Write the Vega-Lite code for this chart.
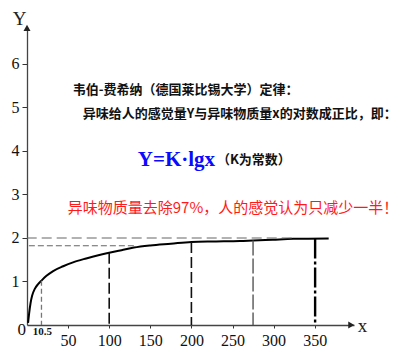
{
  "$schema": "https://vega.github.io/schema/vega-lite/v6.json",
  "width": 327,
  "height": 298,
  "autosize": {"type": "none"},
  "padding": {"left": 27, "top": 27, "right": 46, "bottom": 31},
  "background": "white",
  "config": {
    "font": "Liberation Serif",
    "view": {"stroke": null},
    "style": {"guide-label": {"font": "Liberation Serif"}, "guide-title": {"font": "Liberation Serif"}},
    "axis": {
      "labelFont": "Liberation Serif", "labelFontSize": 16, "labelColor": "#111",
      "titleFont": "Liberation Serif", "titleFontSize": 19, "titleFontWeight": "normal", "titleColor": "#222",
      "tickColor": "#333", "domainColor": "#444", "domainWidth": 1.3, "grid": false,
      "labelFlush": false, "labelOverlap": false
    }
  },
  "layer": [
    {
      "data": {"values": [
        {"x": 1.3, "y": 0.05}, {"x": 2.6, "y": 0.27}, {"x": 4.3, "y": 0.5}, {"x": 6.2, "y": 0.67},
        {"x": 9.5, "y": 0.83}, {"x": 13.5, "y": 0.94}, {"x": 17.6, "y": 1.02}, {"x": 23.7, "y": 1.13},
        {"x": 31.8, "y": 1.24}, {"x": 44, "y": 1.35}, {"x": 56, "y": 1.44}, {"x": 72, "y": 1.53},
        {"x": 88, "y": 1.61}, {"x": 100, "y": 1.66}, {"x": 115, "y": 1.72}, {"x": 130, "y": 1.78},
        {"x": 150, "y": 1.83}, {"x": 175, "y": 1.87}, {"x": 200, "y": 1.91}, {"x": 230, "y": 1.92},
        {"x": 259, "y": 1.93}, {"x": 275, "y": 1.94}, {"x": 299, "y": 1.96}, {"x": 324, "y": 1.98},
        {"x": 367, "y": 1.99}
      ]},
      "mark": {"type": "line", "color": "#000", "strokeWidth": 2, "interpolate": "monotone"},
      "encoding": {
        "x": {
          "field": "x", "type": "quantitative",
          "scale": {"domain": [0, 397.8], "nice": false},
          "axis": {
            "values": [50, 100, 150, 200, 250, 300, 350],
            "title": "x", "titleX": 335, "titleY": 0, "titleAngle": 0,
            "titleAlign": "center", "titleBaseline": "middle",
            "labelFont": "Liberation Serif",
            "labelBaseline": "middle", "labelPadding": 12, "tickSize": 3
          }
        },
        "y": {
          "field": "y", "type": "quantitative",
          "scale": {"domain": [0, 6.85], "nice": false},
          "axis": {
            "values": [1, 2, 3, 4, 5, 6],
            "title": "Y", "titleX": -8, "titleY": -9, "titleAngle": 0,
            "titleAlign": "center", "titleBaseline": "middle",
            "labelFont": "Liberation Serif",
            "labelPadding": 3, "tickSize": 5
          }
        }
      }
    },
    {
      "data": {"values": [{"x": 17.6, "y": 1.02}]},
      "mark": {"type": "rule", "color": "#777", "strokeWidth": 1.3, "strokeDash": [5, 3]},
      "encoding": {
        "x": {"field": "x", "type": "quantitative"},
        "y": {"field": "y", "type": "quantitative"},
        "y2": {"datum": 0}
      }
    },
    {
      "data": {"values": [{"x": 100, "y": 1.66}, {"x": 200, "y": 1.91}]},
      "mark": {"type": "rule", "color": "#111", "strokeWidth": 1.6, "strokeDash": [11, 4]},
      "encoding": {
        "x": {"field": "x", "type": "quantitative"},
        "y": {"field": "y", "type": "quantitative"},
        "y2": {"datum": 0}
      }
    },
    {
      "data": {"values": [{"x": 275, "y": 1.94}]},
      "mark": {"type": "rule", "color": "#555", "strokeWidth": 1.4, "strokeDash": [15, 3]},
      "encoding": {
        "x": {"field": "x", "type": "quantitative"},
        "y": {"field": "y", "type": "quantitative"},
        "y2": {"datum": 0}
      }
    },
    {
      "data": {"values": [{"x": 350.5, "y": 1.99}]},
      "mark": {"type": "rule", "color": "#000", "strokeWidth": 2.4, "strokeDash": [20, 3, 3, 3]},
      "encoding": {
        "x": {"field": "x", "type": "quantitative"},
        "y": {"field": "y", "type": "quantitative"},
        "y2": {"datum": 0}
      }
    },
    {
      "data": {"values": [{"y": 2.0, "x": 322}]},
      "mark": {"type": "rule", "color": "#666", "strokeWidth": 1.1, "strokeDash": [10, 5]},
      "encoding": {
        "y": {"field": "y", "type": "quantitative"},
        "x": {"field": "x", "type": "quantitative"},
        "x2": {"datum": 0}
      }
    },
    {
      "data": {"values": [{"y": 1.82, "x": 130}]},
      "mark": {"type": "rule", "color": "#666", "strokeWidth": 1.1, "strokeDash": [6, 3]},
      "encoding": {
        "y": {"field": "y", "type": "quantitative"},
        "x": {"field": "x", "type": "quantitative"},
        "x2": {"datum": 0}
      }
    },
    {
      "data": {"values": [{"x": 0, "y": 6.83}]},
      "mark": {"type": "point", "shape": "triangle-up", "filled": true, "size": 49, "color": "#222", "opacity": 1},
      "encoding": {
        "x": {"field": "x", "type": "quantitative"},
        "y": {"field": "y", "type": "quantitative"}
      }
    },
    {
      "data": {"values": [{"x": 394.5, "y": 0}]},
      "mark": {"type": "point", "shape": "triangle-right", "filled": true, "size": 49, "color": "#222", "opacity": 1},
      "encoding": {
        "x": {"field": "x", "type": "quantitative"},
        "y": {"field": "y", "type": "quantitative"}
      }
    },
    {
      "data": {"values": [{"x": -6.3, "y": -0.115, "t": "0"}]},
      "mark": {"type": "text", "font": "Liberation Serif", "fontSize": 17, "color": "#111", "align": "center", "baseline": "middle"},
      "encoding": {
        "x": {"field": "x", "type": "quantitative"},
        "y": {"field": "y", "type": "quantitative"},
        "text": {"field": "t"}
      }
    },
    {
      "data": {"values": [{"x": 18.6, "y": -0.17, "t": "10.5"}]},
      "mark": {"type": "text", "font": "Liberation Serif", "fontSize": 11, "fontWeight": "bold", "color": "#111", "align": "center", "baseline": "middle"},
      "encoding": {
        "x": {"field": "x", "type": "quantitative"},
        "y": {"field": "y", "type": "quantitative"},
        "text": {"field": "t"}
      }
    },
    {
      "data": {"values": [
        {"x": 55.7, "y": 5.4, "t": "韦伯-费希纳（德国莱比锡大学）定律："},
        {"x": 67.9, "y": 4.85, "t": "异味给人的感觉量Y与异味物质量x的对数成正比，即："},
        {"x": 231, "y": 3.79, "t": "（K为常数）"}
      ]},
      "mark": {"type": "text", "font": "Noto Sans CJK SC", "fontSize": 13, "fontWeight": "bold", "color": "#111", "align": "left", "baseline": "middle"},
      "encoding": {
        "x": {"field": "x", "type": "quantitative"},
        "y": {"field": "y", "type": "quantitative"},
        "text": {"field": "t"}
      }
    },
    {
      "data": {"values": [{"x": 134.8, "y": 3.79, "t": "Y=K·lgx"}]},
      "mark": {"type": "text", "font": "Liberation Serif", "fontSize": 21, "fontWeight": "bold", "color": "#0a0aff", "align": "left", "baseline": "middle"},
      "encoding": {
        "x": {"field": "x", "type": "quantitative"},
        "y": {"field": "y", "type": "quantitative"},
        "text": {"field": "t"}
      }
    },
    {
      "data": {"values": [{"x": 49.6, "y": 2.69, "t": "异味物质量去除97%，人的感觉认为只减少一半！"}]},
      "mark": {"type": "text", "font": "Noto Sans CJK SC", "fontSize": 15, "color": "#ff1a1a", "align": "left", "baseline": "middle"},
      "encoding": {
        "x": {"field": "x", "type": "quantitative"},
        "y": {"field": "y", "type": "quantitative"},
        "text": {"field": "t"}
      }
    }
  ]
}
